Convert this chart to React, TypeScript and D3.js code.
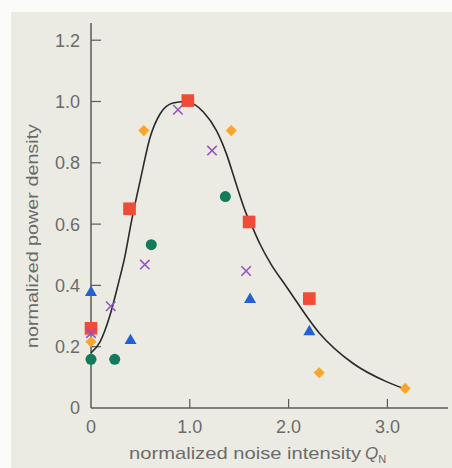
import React from 'react';
import * as d3 from 'd3';

// fitted curve
const curveX = [0, 0.09, 0.19, 0.28, 0.34, 0.41, 0.5, 0.6, 0.7, 0.83, 0.95, 1.05, 1.14, 1.27, 1.37, 1.47, 1.57, 1.64, 1.71, 1.82, 1.98, 2.31, 2.65, 2.99, 3.18];
const curveY = [0.18, 0.215, 0.3, 0.41, 0.49, 0.61, 0.745, 0.885, 0.96, 0.995, 1.0, 0.99, 0.965, 0.905, 0.83, 0.73, 0.635, 0.585, 0.535, 0.47, 0.395, 0.245, 0.146, 0.086, 0.062];

// measured points, one array per marker
const squareX = [0, 0.39, 0.98, 1.6, 2.21];
const squareY = [0.26, 0.65, 1.003, 0.607, 0.357];
const diamondX = [0, 0.535, 1.42, 2.31, 3.18];
const diamondY = [0.216, 0.905, 0.905, 0.115, 0.064];
const crossX = [0, 0.2, 0.545, 0.88, 1.225, 1.57];
const crossY = [0.244, 0.332, 0.468, 0.973, 0.84, 0.447];
const triangleX = [0, 0.4, 1.61, 2.21];
const triangleY = [0.377, 0.22, 0.354, 0.249];
const circleX = [0, 0.24, 0.61, 1.36];
const circleY = [0.159, 0.159, 0.533, 0.69];

const xTicks = [0, 1, 2, 3];
const xTickLabels = ['0', '1.0', '2.0', '3.0'];
const yTicks = [0, 0.2, 0.4, 0.6, 0.8, 1.0, 1.2];
const yTickLabels = ['0', '0.2', '0.4', '0.6', '0.8', '1.0', '1.2'];

const W = 452;
const H = 468;

const App = () => {
  const x = d3.scaleLinear().domain([0, 1]).range([91, 189.8]);
  const y = d3.scaleLinear().domain([0, 1]).range([408, 101.5]);

  const line = d3.line<number>()
    .x((d, i) => x(curveX[i]))
    .y(d => y(d))
    .curve(d3.curveMonotoneX);

  const sym = (type: d3.SymbolType, size: number) => d3.symbol().type(type).size(size)()!;

  const font = 'Liberation Sans, Arial, sans-serif';
  const textCol = '#6b6b6b';
  const axisCol = '#5a5a5a';

  const series = [
    { xs: circleX, ys: circleY, path: sym(d3.symbolCircle, 95), fill: '#137a5c', stroke: 'none', rot: 0 },
    { xs: triangleX, ys: triangleY, path: sym(d3.symbolTriangle, 62), fill: '#2360d0', stroke: 'none', rot: 0 },
    { xs: diamondX, ys: diamondY, path: sym(d3.symbolSquare, 62), fill: '#f7a52c', stroke: 'none', rot: 45 },
    { xs: squareX, ys: squareY, path: sym(d3.symbolSquare, 160), fill: '#f04b37', stroke: 'none', rot: 0 },
    { xs: crossX, ys: crossY, path: sym(d3.symbolX, 60), fill: 'none', stroke: '#9552c4', rot: 0 },
  ];

  return (
    <svg width={W} height={H} style={{ position: 'absolute', left: 0, top: 0, display: 'block' }}>
      <rect x={0} y={0} width={W} height={H} fill="#fbfbf9" />
      <rect x={11} y={12} width={W - 11} height={H - 12} fill="#ecebe3" />

      {/* axes */}
      <line x1={x(0)} x2={x(0)} y1={23} y2={y(0)} stroke={axisCol} strokeWidth={1.5} />
      <line x1={x(0)} x2={448} y1={y(0)} y2={y(0)} stroke={axisCol} strokeWidth={1.5} />
      {yTicks.map((t, i) => (
        <g key={'y' + i}>
          {t > 0 && <line x1={x(0)} x2={x(0) + 10} y1={y(t)} y2={y(t)} stroke={axisCol} strokeWidth={1.2} />}
          <text x={80} y={y(t)} dy="0.36em" textAnchor="end" fontSize={18} fontFamily={font} fill={textCol}>
            {yTickLabels[i]}
          </text>
        </g>
      ))}
      {xTicks.map((t, i) => (
        <g key={'x' + i}>
          {t > 0 && <line x1={x(t)} x2={x(t)} y1={y(0) - 9} y2={y(0)} stroke={axisCol} strokeWidth={1.2} />}
          <text x={x(t)} y={433} textAnchor="middle" fontSize={18} fontFamily={font} fill={textCol}>
            {xTickLabels[i]}
          </text>
        </g>
      ))}

      <text transform="translate(38,236) rotate(-90)" textAnchor="middle" fontSize={17}
        fontFamily={font} fill={textCol} textLength={224} lengthAdjust="spacingAndGlyphs">
        normalized power density
      </text>
      <text x={129} y={459} fontSize={17} fontFamily={font} fill={textCol} textLength={232} lengthAdjust="spacingAndGlyphs">
        normalized noise intensity
      </text>
      <text x={365} y={459} fontSize={17} fontFamily={font} fill={textCol} fontStyle="italic">
        Q<tspan fontSize={11} dy={4} fontStyle="normal">N</tspan>
      </text>

      <path d={line(curveY) || ''} fill="none" stroke="#2a2a2a" strokeWidth={1.6} />

      {series.map((s, si) => (
        <g key={'s' + si}>
          {s.xs.map((v, i) => (
            <path key={i} d={s.path} transform={`translate(${x(v)},${y(s.ys[i])}) rotate(${s.rot})`}
              fill={s.fill} stroke={s.stroke} strokeWidth={1.6} />
          ))}
        </g>
      ))}
    </svg>
  );
};

export default App;
